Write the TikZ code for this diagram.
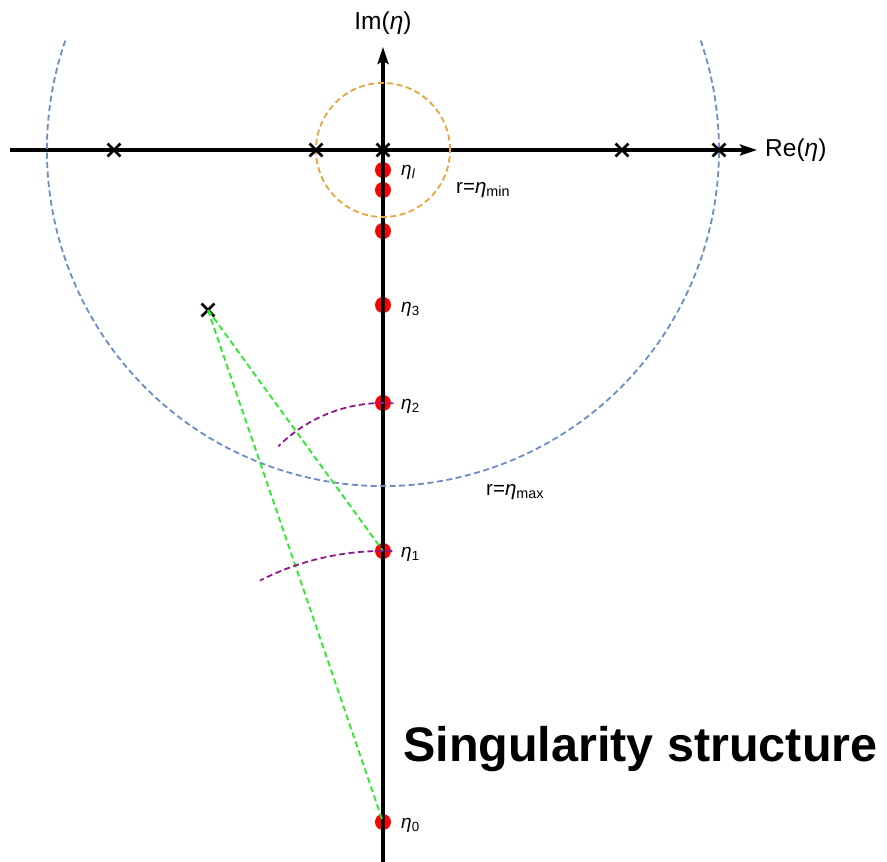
\documentclass[tikz,border=0pt]{standalone}
\usepackage{fontspec}
\setmainfont{Liberation Sans}
\usetikzlibrary{arrows.meta,shapes.misc}

\definecolor{circblue}{RGB}{108,140,196}
\definecolor{circorange}{RGB}{232,164,60}
\definecolor{pathgreen}{RGB}{40,235,40}
\definecolor{arcpurple}{RGB}{140,25,140}

\begin{document}
\begin{tikzpicture}[x=1pt,y=1pt,
	axis/.style={line width=3.2pt, -{Stealth[length=17pt,width=11pt,inset=3pt]}},
	pole/.style={circle, fill=red, minimum size=16pt, inner sep=0pt},
	xmark/.style={cross out, draw, line width=2.8pt, minimum size=10pt, inner sep=0pt},
	lbl/.style={anchor=west, inner sep=0pt, font=\fontsize{19}{22}\selectfont},
	rlbl/.style={anchor=west, inner sep=0pt, font=\fontsize{20.5}{24}\selectfont},
	axlbl/.style={inner sep=0pt, font=\fontsize{24.5}{28}\selectfont},
	dashline/.style={line width=1.8pt, dash pattern=on 6pt off 3.5pt}]
	\useasboundingbox (0,0) rectangle (887,862);
	\coordinate (O) at (383,712);
	% poles on the imaginary axis
	\node[pole] (el) at (383,692) {};
	\node[pole] (e5) at (383,672) {};
	\node[pole] (e4) at (383,631) {};
	\node[pole] (e3) at (383,557) {};
	\node[pole] (e2) at (383,459) {};
	\node[pole] (e1) at (383,311) {};
	\node[pole] (e0) at (383,40) {};
	% axes
	\coordinate (xl) at (10,712);
	\coordinate (xr) at (757,712);
	\coordinate (yb) at (383,0);
	\coordinate (yt) at (383,815);
	\draw[axis] (xl) -- (xr);
	\draw[axis] (yb) -- (yt);
	\node[axlbl, anchor=west] (re) at (765,712) {Re(\textit{η})};
	\node[axlbl] (im) at (383,839) {Im(\textit{η})};
	% circles of radius eta_min and eta_max
	\draw[dashline, circorange] (O) circle[radius=67];
	\draw[dashline, circblue] (O) ++(161:336) arc[start angle=161, end angle=379, radius=336];
	\node[rlbl] (rmin) at (456,672) {r=\textit{η}\textsubscript{min}};
	\node[rlbl] (rmax) at (486,370) {r=\textit{η}\textsubscript{max}};
	% singularities
	\node[xmark] (s1) at (114,712) {};
	\node[xmark] (s2) at (316,712) {};
	\node[xmark] (s3) at (383,712) {};
	\node[xmark] (s4) at (622,712) {};
	\node[xmark] (s5) at (719,712) {};
	\node[xmark] (sc) at (208,552) {};
	% paths to the off-axis singularity
	\draw[dashline, pathgreen] (sc.center) -- (e1.center);
	\draw[dashline, pathgreen] (sc.center) -- (e0.center);
	% arcs around the next pole
	\draw[dashline, arcpurple] ([shift={(86:148)}]e1.center) arc[start angle=86, end angle=135, radius=148];
	\draw[dashline, arcpurple] ([shift={(88:271)}]e0.center) arc[start angle=88, end angle=117, radius=271];
	% labels
	\node[lbl] (ll) at (401,690) {\textit{η}\textsubscript{\textit{l}}};
	\node[lbl] (l3) at (401,553) {\textit{η}\textsubscript{3}};
	\node[lbl] (l2) at (401,456) {\textit{η}\textsubscript{2}};
	\node[lbl] (l1) at (401,308) {\textit{η}\textsubscript{1}};
	\node[lbl] (l0) at (401,37) {\textit{η}\textsubscript{0}};
	\node[anchor=base west, inner sep=0pt, font=\fontsize{48.5}{58}\selectfont\bfseries] (title) at (403,100) {Singularity structure};
\end{tikzpicture}
\end{document}
